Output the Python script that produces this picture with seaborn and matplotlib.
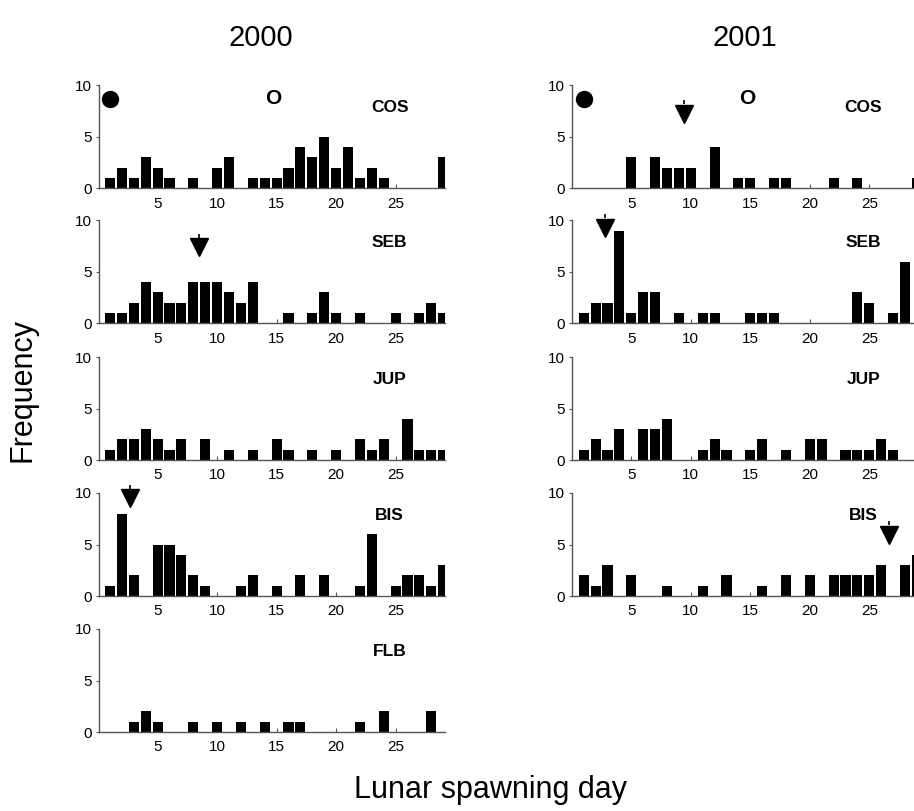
import matplotlib
matplotlib.use("Agg")
import matplotlib.pyplot as plt
import seaborn as sns
import pandas as pd

# ---------------- data ----------------
days = list(range(1, 30))

cos_2000 = [1, 2, 1, 3, 2, 1, 0, 1, 0, 2, 3, 0, 1, 1, 1, 2, 4, 3, 5, 2, 4, 1, 2, 1, 0, 0, 0, 0, 3]
seb_2000 = [1, 1, 2, 4, 3, 2, 2, 4, 4, 4, 3, 2, 4, 0, 0, 1, 0, 1, 3, 1, 0, 1, 0, 0, 1, 0, 1, 2, 1]
jup_2000 = [1, 2, 2, 3, 2, 1, 2, 0, 2, 0, 1, 0, 1, 0, 2, 1, 0, 1, 0, 1, 0, 2, 1, 2, 0, 4, 1, 1, 1]
bis_2000 = [1, 8, 2, 0, 5, 5, 4, 2, 1, 0, 0, 1, 2, 0, 1, 0, 2, 0, 2, 0, 0, 1, 6, 0, 1, 2, 2, 1, 3]
flb_2000 = [0, 0, 1, 2, 1, 0, 0, 1, 0, 1, 0, 1, 0, 1, 0, 1, 1, 0, 0, 0, 0, 1, 0, 2, 0, 0, 0, 2, 0]

cos_2001 = [0, 0, 0, 0, 3, 0, 3, 2, 2, 2, 0, 4, 0, 1, 1, 0, 1, 1, 0, 0, 0, 1, 0, 1, 0, 0, 0, 0, 1]
seb_2001 = [1, 2, 2, 9, 1, 3, 3, 0, 1, 0, 1, 1, 0, 0, 1, 1, 1, 0, 0, 0, 0, 0, 0, 3, 2, 0, 1, 6, 0]
jup_2001 = [1, 2, 1, 3, 0, 3, 3, 4, 0, 0, 1, 2, 1, 0, 1, 2, 0, 1, 0, 2, 2, 0, 1, 1, 1, 2, 1, 0, 0]
bis_2001 = [2, 1, 3, 0, 2, 0, 0, 1, 0, 0, 1, 0, 2, 0, 0, 1, 0, 2, 0, 2, 0, 2, 2, 2, 2, 3, 0, 3, 4]

years = ["2000", "2001"]
sites = ["COS", "SEB", "JUP", "BIS", "FLB"]
x_ticks = [5, 10, 15, 20, 25]
y_ticks = [0, 5, 10]

# arrow annotations: (year, site, lunar day, y of triangle base)
arrows = [("2000", "SEB", 8.52, 8.3), ("2000", "BIS", 2.68, 10.4),
          ("2001", "COS", 9.4, 8.15), ("2001", "SEB", 2.8, 10.2),
          ("2001", "BIS", 26.64, 6.85)]
# moon phase symbols: new moon (filled dot) and full moon ("O")
new_moon_day = 1.0
full_moon_day = 14.75
moon_y = 8.67

series = {
    ("2000", "COS"): cos_2000, ("2000", "SEB"): seb_2000, ("2000", "JUP"): jup_2000,
    ("2000", "BIS"): bis_2000, ("2000", "FLB"): flb_2000,
    ("2001", "COS"): cos_2001, ("2001", "SEB"): seb_2001, ("2001", "JUP"): jup_2001,
    ("2001", "BIS"): bis_2001,
}

# ---------------- figure ----------------
sns.set_style("ticks")
plt.rcParams["font.family"] = ["Liberation Sans", "DejaVu Sans"]
plt.rcParams["text.color"] = "black"
plt.rcParams["axes.labelcolor"] = "black"

W, H = 914, 811
fig = plt.figure(figsize=(W / 100, H / 100), dpi=100)

row_bottoms = [188.3, 323.3, 460.0, 596.0, 732.0]
ax_h = 103.0
col_geom = {"2000": (99.0, 346.0, (0.08, 29.15)),
            "2001": (571.8, 342.2, (0.0, 28.76))}

spine_col = "#555555"

for (yr, site), vals in series.items():
    r = sites.index(site)
    x0, w, xl = col_geom[yr]
    ax = fig.add_axes([x0 / W, 1 - row_bottoms[r] / H, w / W, ax_h / H])
    df = pd.DataFrame({"day": days, "n": vals})
    sns.barplot(data=df, x="day", y="n", native_scale=True, width=0.85,
                color="black", saturation=1, linewidth=0, ax=ax)
    ax.set_xlim(*xl)
    ax.set_ylim(0, 10)
    ax.set_xticks(x_ticks)
    ax.set_yticks(y_ticks)
    ax.set_xlabel("")
    ax.set_ylabel("")
    for s in ["top", "right"]:
        ax.spines[s].set_visible(False)
    for s in ["left", "bottom"]:
        ax.spines[s].set_color(spine_col)
        ax.spines[s].set_linewidth(1.0)
    ax.tick_params(axis="x", direction="in", length=3, width=0.8, color=spine_col,
                   labelcolor="black", labelsize=11, pad=6)
    ax.tick_params(axis="y", direction="out", length=2, width=0.8, color=spine_col,
                   labelcolor="black", labelsize=11, pad=3)
    ax.text(24.5, 7.8, site, fontsize=12.5, fontweight="bold", ha="center", va="center")
    if site == "COS":
        ax.plot([new_moon_day], [moon_y], marker="o", markersize=11.5, color="black",
                clip_on=False, linestyle="none")
        ax.text(full_moon_day, moon_y, "O", fontsize=15, fontweight="bold",
                ha="center", va="center")
    for (ayr, asite, aday, abase) in arrows:
        if ayr == yr and asite == site:
            ax.plot([aday, aday], [abase, abase + 0.4], color="black", lw=1.2,
                    clip_on=False, solid_capstyle="butt")
            ax.plot([aday], [abase - 0.92], marker="v", markersize=13.5, color="black",
                    linestyle="none", clip_on=False)

fig.text(261 / W, 1 - 38 / H, years[0], fontsize=21, ha="center", va="center")
fig.text(745 / W, 1 - 38 / H, years[1], fontsize=21, ha="center", va="center")
fig.text(22 / W, 1 - 390 / H, "Frequency", fontsize=22, rotation=90,
         ha="center", va="center")
fig.text(490 / W, 1 - 790 / H, "Lunar spawning day", fontsize=22,
         ha="center", va="center")

fig.savefig("out.png", dpi=100)
